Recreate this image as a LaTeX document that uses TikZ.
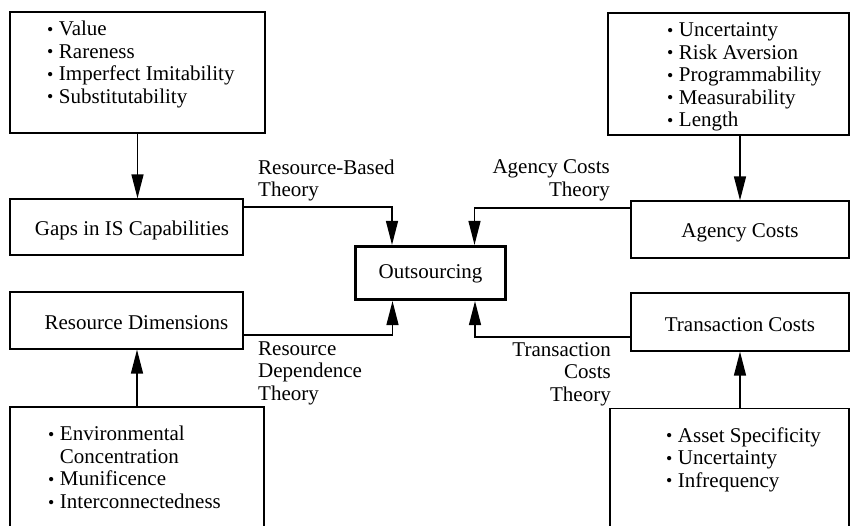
\documentclass[tikz,border=0pt]{standalone}
\usepackage{fontspec}
\usepackage{graphicx}
\setmainfont{Liberation Serif}
\usetikzlibrary{arrows.meta}
\newcommand\bul{\makebox[6.5pt][l]{\raisebox{0.3pt}{\scalebox{0.85}{•}}}\ }
\newcommand\lowr[2]{\raisebox{-#1}[\height][\depth]{#2}}
\tikzset{
  txt/.style={font=\fontsize{21}{22.5}\selectfont, inner sep=0pt},
  box/.style={draw, line width=1.3pt, rectangle, inner sep=0pt, font=\fontsize{21}{22.5}\selectfont},
  mainbox/.style={box, line width=3.2pt},
  arr/.style={line width=1.4pt, -{Triangle[length=24pt,width=12pt]}},
  lbl/.style={txt, align=left},
  lblr/.style={txt, align=right},
}
\begin{document}
\begin{tikzpicture}[x=1pt,y=-1pt]
\useasboundingbox (0,0) rectangle (851,526);
\fill[white] (0,0) rectangle (851,526);
\clip (0,0) rectangle (851,526);
% boxes
\node[box, minimum width=255pt, minimum height=121pt] (tl) at (137.5,72.5) {};
\node[box, minimum width=233pt, minimum height=56pt] (gaps) at (126.5,227) {\hspace*{11pt}\lowr{3pt}{Gaps in IS Capabilities}};
\node[box, minimum width=233pt, minimum height=57pt] (resdim) at (126.5,320.5) {\hspace*{20pt}\lowr{2pt}{Resource Dimensions}};
\node[box, minimum width=254pt, minimum height=140pt] (bl) at (137,477) {};
\node[mainbox, minimum width=150pt, minimum height=53pt] (outs) at (430.5,273) {\lowr{1pt}{Outsourcing}};
\node[box, minimum width=241pt, minimum height=122pt] (tr) at (728.5,74) {};
\node[box, minimum width=218pt, minimum height=57pt] (agency) at (740,229.5) {\lowr{3pt}{Agency Costs}};
\node[box, minimum width=218pt, minimum height=58pt] (trans) at (740,322) {\lowr{3pt}{Transaction Costs}};
\node[box, minimum width=239pt, minimum height=140pt] (br) at (729.5,478.5) {};
% lists
\node[lbl, anchor=west] (tllist) at (47,64.5) {\bul Value\\\bul Rareness\\\bul Imperfect Imitability\\\bul Substitutability};
\node[lbl, anchor=west] (trlist) at (667,77) {\bul Uncertainty\\\bul Risk Aversion\\\bul Programmability\\\bul Measurability\\\bul Length};
\node[lbl, anchor=west] (bllist) at (48,467.5) {\bul Environmental\\\hphantom{\bul}Concentration\\\bul Munificence\\\bul Interconnectedness};
\node[lbl, anchor=west] (brlist) at (666,459.5) {\bul Asset Specificity\\\bul Uncertainty\\\bul Infrequency};
% theory labels
\node[lbl, anchor=west] (rbt) at (258,180.5) {Resource-Based\\Theory};
\node[lblr, anchor=east] (act) at (610,180.5) {Agency Costs\\Theory};
\node[lbl, anchor=west] (rdt) at (258,373) {Resource\\Dependence\\Theory};
\node[lblr, anchor=east] (tct) at (611,374) {Transaction\\Costs\\Theory};
% connectors
\draw[arr] (tl.south) -- (tl.south |- gaps.north);
\draw[arr] (agency.north |- tr.south) -- (agency.north);
\draw[arr] (bl.north) -- (bl.north |- resdim.south);
\draw[arr] (trans.south |- br.north) -- (trans.south);
\draw[arr] ([yshift=20pt]gaps.east) -| ([xshift=-38.5pt]outs.north);
\draw[arr] ([yshift=21.5pt]agency.west) -| ([xshift=44pt]outs.north);
\draw[arr] ([yshift=-14.5pt]resdim.east) -| ([xshift=-38pt]outs.south);
\draw[arr] ([yshift=-15pt]trans.west) -| ([xshift=44.5pt]outs.south);
\end{tikzpicture}
\end{document}
